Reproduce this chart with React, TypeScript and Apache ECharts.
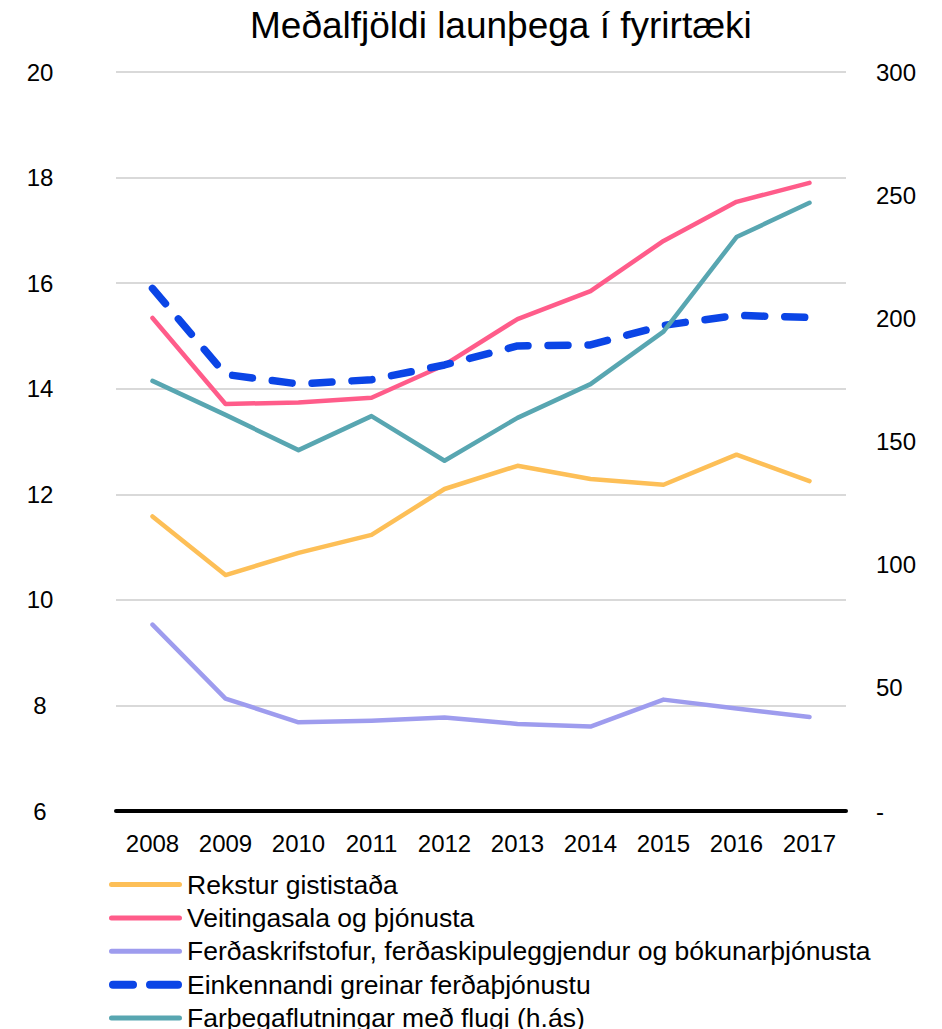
import React, { useEffect, useRef } from "react";
import * as echarts from "echarts";

const years = ["2008", "2009", "2010", "2011", "2012", "2013", "2014", "2015", "2016", "2017"];
const rekstur = [11.58, 10.47, 10.89, 11.23, 12.1, 12.54, 12.29, 12.18, 12.75, 12.25];
const veitinga = [15.34, 13.71, 13.74, 13.83, 14.45, 15.32, 15.85, 16.8, 17.54, 17.9];
const ferdaskrif = [9.53, 8.13, 7.68, 7.71, 7.77, 7.65, 7.6, 8.11, 7.94, 7.78];
const einkennandi = [15.9, 14.27, 14.09, 14.17, 14.45, 14.81, 14.83, 15.2, 15.39, 15.35];
const farthega = [174.6, 160.8, 146.5, 160.3, 142.2, 159.6, 173.3, 194.6, 233.0, 246.9];

const names = [
  "Rekstur gististaða",
  "Veitingasala og þjónusta",
  "Ferðaskrifstofur, ferðaskipuleggjendur og bókunarþjónusta",
  "Einkennandi greinar ferðaþjónustu",
  "Farþegaflutningar með flugi (h.ás)",
];
const colors = ["#FDBF57", "#FF5C8A", "#9E9CEE", "#0B45E6", "#58A6B1"];

const FONT = "'Liberation Sans', Arial, sans-serif";

// legend icons (73 x 8 box, padded with moveTo points)
const solidIcon =
  "path://M0,0 M73,8 M2.5,1.5 L70.5,1.5 A2.5,2.5 0 0 1 70.5,6.5 L2.5,6.5 A2.5,2.5 0 0 1 2.5,1.5 Z";
const dashIcon =
  "path://M0,0 M73,8 M4,0 L24,0 A4,4 0 0 1 24,8 L4,8 A4,4 0 0 1 4,0 Z M41,0 L69,0 A4,4 0 0 1 69,8 L41,8 A4,4 0 0 1 41,0 Z";

export default function App() {
  const ref = useRef<HTMLDivElement>(null);
  useEffect(() => {
    if (!ref.current) return;
    const chart = echarts.init(ref.current, undefined, { renderer: "svg" });
    const solid = (i: number, data: number[], yAxisIndex = 0) => ({
      name: names[i],
      type: "line",
      data,
      yAxisIndex,
      symbol: "none",
      showSymbol: false,
      lineStyle: { color: colors[i], width: 4.5, cap: "round", join: "round" },
      itemStyle: { color: colors[i] },
    });
    chart.setOption({
      animation: false,
      backgroundColor: "#ffffff",
      textStyle: { fontFamily: FONT },
      title: {
        text: "Meðalfjöldi launþega í fyrirtæki",
        left: 250,
        top: 7,
        padding: 0,
        textStyle: { fontFamily: FONT, fontSize: 37, fontWeight: "normal", color: "#000" },
      },
      grid: { left: 116, right: 96, top: 72, bottom: 218, containLabel: false },
      legend: {
        orient: "vertical",
        left: 109,
        top: 871,
        height: 300,
        padding: 0,
        itemWidth: 73,
        itemHeight: 8,
        itemGap: 6.4,
        textStyle: { fontFamily: FONT, fontSize: 26.5, lineHeight: 26, color: "#000" },
        data: names.map((n, i) => ({ name: n, icon: i === 3 ? dashIcon : solidIcon })),
      },
      xAxis: {
        type: "category",
        data: years,
        boundaryGap: true,
        axisLine: { show: true, lineStyle: { color: "#000", width: 4 } },
        axisTick: { show: false },
        axisLabel: { color: "#000", fontSize: 24, fontFamily: FONT, margin: 20, interval: 0 },
      },
      yAxis: [
        {
          type: "value",
          min: 6,
          max: 20,
          interval: 2,
          axisLine: { show: false },
          axisTick: { show: false },
          splitLine: { show: true, lineStyle: { color: "#D9D9D9", width: 2 } },
          axisLabel: { color: "#000", fontSize: 24, fontFamily: FONT, align: "center", margin: 76 },
        },
        {
          type: "value",
          min: 0,
          max: 300,
          interval: 50,
          position: "right",
          axisLine: { show: false },
          axisTick: { show: false },
          splitLine: { show: false },
          axisLabel: {
            color: "#000",
            fontSize: 24,
            fontFamily: FONT,
            align: "left",
            margin: 30,
            formatter: (v: number) => (v === 0 ? "-" : String(v)),
          },
        },
      ],
      series: [
        solid(0, rekstur),
        solid(1, veitinga),
        solid(2, ferdaskrif),
        {
          name: names[3],
          type: "line",
          data: einkennandi,
          symbol: "none",
          showSymbol: false,
          lineStyle: { color: colors[3], width: 7.5, type: [20, 20], cap: "round", join: "round" },
          itemStyle: { color: colors[3] },
        },
        solid(4, farthega, 1),
      ],
    });
    return () => chart.dispose();
  }, []);
  return (
    <div
      ref={ref}
      style={{ position: "absolute", left: 0, top: 0, width: 942, height: 1029, background: "#fff" }}
    />
  );
}
